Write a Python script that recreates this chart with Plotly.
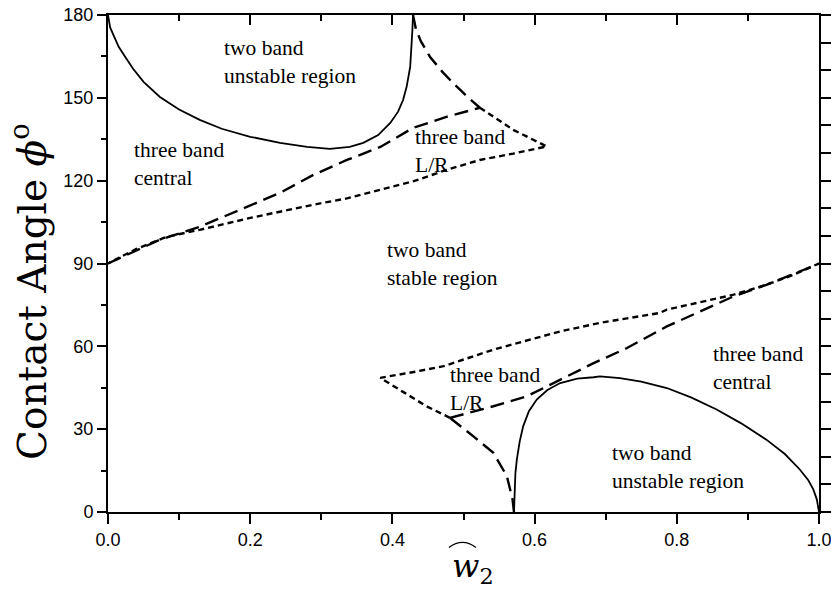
import plotly.graph_objects as go

# Phase boundaries in the (w2, contact angle) plane.
# Upper solid boundary: two band unstable region (top)
upper_solid_x = [0.000, 0.003, 0.008, 0.015, 0.025, 0.035, 0.050, 0.073, 0.100, 0.129, 0.160, 0.200, 0.242,
                 0.280, 0.312, 0.340, 0.359, 0.380, 0.397, 0.408, 0.415, 0.420, 0.425, 0.427, 0.428, 0.429]
upper_solid_y = [180.0, 175.5, 172.5, 168.5, 164.5, 160.6, 155.8, 150.3, 145.8, 142.0, 138.8, 135.9, 133.7,
                 132.2, 131.5, 132.2, 133.7, 136.5, 140.9, 145.0, 149.2, 154.0, 161.2, 168.0, 174.0, 180.0]

# Upper dashed branch from the top edge down to the junction
upper_dash_x = [0.429, 0.433, 0.440, 0.453, 0.470, 0.485, 0.505, 0.523]
upper_dash_y = [180.0, 175.0, 170.5, 164.8, 159.5, 155.4, 150.5, 146.4]

# Upper dotted loop: junction -> cusp -> back to w2 = 0
upper_dot_x = [0.523, 0.570, 0.617, 0.570, 0.523, 0.476, 0.430, 0.383, 0.336, 0.289, 0.242, 0.200, 0.129, 0.083, 0.040, 0.000]
upper_dot_y = [146.4, 138.4, 132.4, 129.8, 127.5, 123.9, 119.8, 116.7, 113.6, 111.3, 108.8, 106.5, 102.2, 99.7, 95.3, 90.0]

# Upper dashed line rising from (0, 90) to the junction
upper_line_x = [0.000, 0.073, 0.129, 0.176, 0.242, 0.289, 0.336, 0.383, 0.429, 0.476, 0.523]
upper_line_y = [90.0, 98.6, 103.3, 108.4, 115.6, 122.1, 127.5, 132.2, 139.1, 143.1, 146.4]

# Lower solid boundary: two band unstable region (bottom)
lower_solid_x = [0.571, 0.572, 0.573, 0.575, 0.579, 0.584, 0.592, 0.603, 0.618, 0.636, 0.660, 0.683, 0.692,
                 0.720, 0.750, 0.786, 0.820, 0.856, 0.890, 0.926, 0.952, 0.973, 0.985, 0.992, 0.997, 1.000]
lower_solid_y = [0.0, 8.0, 14.0, 19.0, 25.5, 31.1, 36.5, 40.7, 44.2, 46.7, 48.3, 48.8, 49.1,
                 48.5, 47.2, 44.9, 41.5, 37.1, 32.2, 26.2, 21.0, 15.4, 11.5, 8.2, 4.5, 0.0]

# Lower dashed branch from the bottom edge up to the junction
lower_dash_x = [0.571, 0.569, 0.561, 0.542, 0.514, 0.481]
lower_dash_y = [0.0, 4.5, 13.0, 21.4, 27.4, 34.1]

# Lower dotted loop: junction -> cusp -> up to w2 = 1
lower_dot_x = [0.481, 0.448, 0.415, 0.383, 0.430, 0.472, 0.542, 0.636, 0.692, 0.776, 0.786, 0.880, 0.926, 0.960, 1.000]
lower_dot_y = [34.1, 38.3, 43.5, 48.6, 50.7, 52.8, 58.8, 65.4, 68.5, 72.1, 73.3, 78.7, 82.3, 85.5, 90.0]

# Lower dashed line rising from the junction to (1, 90)
lower_line_x = [0.481, 0.542, 0.589, 0.636, 0.683, 0.730, 0.786, 0.880, 0.926, 0.990, 1.000]
lower_line_y = [34.1, 38.3, 41.9, 47.9, 53.9, 59.4, 67.2, 78.1, 82.3, 88.9, 90.0]

# Region labels
label_text = ["two band<br>unstable region", "three band<br>central", "three band<br>L/R",
              "two band<br>stable region", "three band<br>L/R", "three band<br>central",
              "two band<br>unstable region"]
label_x = [0.160, 0.034, 0.429, 0.390, 0.478, 0.848, 0.706]
label_y = [163.0, 126.1, 130.6, 89.9, 44.7, 52.2, 16.3]

x_ticks = [0.0, 0.2, 0.4, 0.6, 0.8, 1.0]
y_ticks = [0, 30, 60, 90, 120, 150, 180]

DASH = "14px,7px"
DOT = "6px,4px"

fig = go.Figure()

def add_line(xs, ys, dash, width=2):
    fig.add_trace(go.Scatter(x=xs, y=ys, mode="lines",
                             line=dict(color="black", width=width, dash=dash),
                             showlegend=False, hoverinfo="skip"))

add_line(upper_solid_x, upper_solid_y, "solid", 1.8)
add_line(upper_dash_x, upper_dash_y, DASH, 2.4)
add_line(upper_dot_x, upper_dot_y, DOT, 2.4)
add_line(upper_line_x, upper_line_y, DASH, 2.4)
add_line(lower_solid_x, lower_solid_y, "solid", 1.8)
add_line(lower_dash_x, lower_dash_y, DASH, 2.4)
add_line(lower_dot_x, lower_dot_y, DOT, 2.4)
add_line(lower_line_x, lower_line_y, DASH, 2.4)

# invisible trace so the mirrored top/right axes are drawn
fig.add_trace(go.Scatter(x=[0], y=[0], xaxis="x2", yaxis="y2", mode="markers",
                         marker=dict(opacity=0), showlegend=False, hoverinfo="skip"))

for t, lx, ly in zip(label_text, label_x, label_y):
    fig.add_annotation(x=lx, y=ly, text=t, showarrow=False, xanchor="left", yanchor="middle",
                       align="left", font=dict(family="Liberation Serif", size=21.5, color="black"))

tick_font = dict(family="Liberation Sans", size=18, color="black")

fig.update_layout(
    width=831, height=589,
    margin=dict(l=108, r=12, t=15, b=76.5),
    paper_bgcolor="white", plot_bgcolor="white",
    xaxis=dict(range=[0, 1], tickvals=x_ticks, tickformat=".1f", ticks="outside", ticklen=10,
               tickwidth=1.5, tickcolor="black", showline=True, linewidth=2, linecolor="black",
               showgrid=False, zeroline=False, tickfont=tick_font, automargin=False,
               ticklabeloverflow="allow",
               minor=dict(dtick=0.1, ticks="outside", ticklen=6, tickwidth=1.5, tickcolor="black")),
    yaxis=dict(range=[0, 180], tickvals=y_ticks, ticks="outside", ticklen=9,
               tickwidth=1.5, tickcolor="black", showline=True, linewidth=2, linecolor="black",
               showgrid=False, zeroline=False, tickfont=tick_font, automargin=False,
               ticklabeloverflow="allow",
               minor=dict(dtick=15, ticks="outside", ticklen=5, tickwidth=1.5, tickcolor="black")),
    xaxis2=dict(range=[0, 1], overlaying="x", side="top", dtick=0.2, ticks="inside", ticklen=10,
                tickwidth=1.5, tickcolor="black", showline=True, linewidth=2, linecolor="black",
                showgrid=False, zeroline=False, showticklabels=False, automargin=False,
                minor=dict(dtick=0.1, ticks="inside", ticklen=6, tickwidth=1.5, tickcolor="black")),
    yaxis2=dict(range=[0, 180], overlaying="y", side="right", dtick=10, ticks="outside", ticklen=10,
                tickwidth=1.5, tickcolor="black", showline=True, linewidth=2, linecolor="black",
                showgrid=False, zeroline=False, showticklabels=False, automargin=False),
)

# Axis titles
fig.add_annotation(xref="paper", yref="paper", x=-0.111, y=0.443, textangle=-90,
                   text="Contact Angle <i>ϕ</i><sup>o</sup>", showarrow=False,
                   xanchor="center", yanchor="middle",
                   font=dict(family="DejaVu Serif", size=39, color="black"))
fig.add_annotation(xref="paper", yref="paper", x=0.481, y=-0.112,
                   text="<i>w</i><sub>2</sub>", showarrow=False,
                   xanchor="left", yanchor="middle",
                   font=dict(family="DejaVu Serif", size=32, color="black"))
# wide hat over the w
fig.add_shape(type="path", xref="paper", yref="paper",
              path="M 0.4795,-0.0715 Q 0.4985,-0.0505 0.5175,-0.0715",
              line=dict(color="black", width=1.3))

fig.write_html("out.html")
